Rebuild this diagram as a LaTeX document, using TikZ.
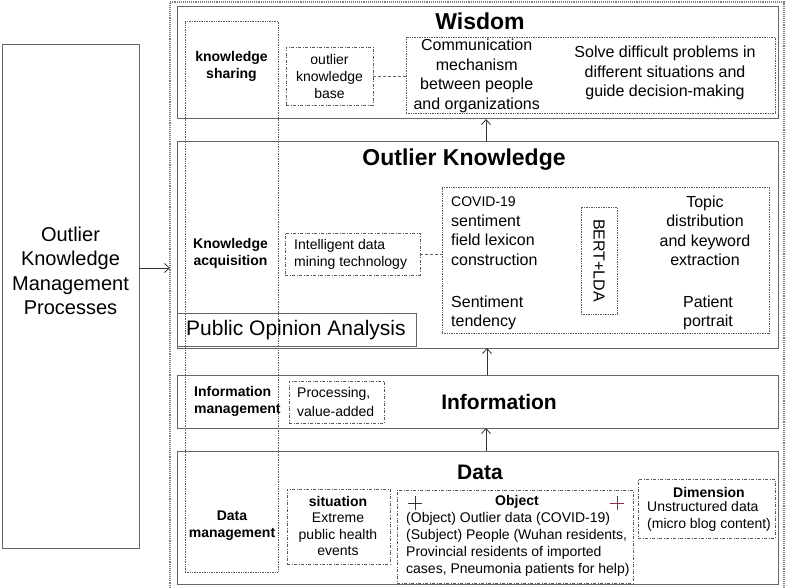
\documentclass[tikz,border=0pt]{standalone}
\usepackage{fontspec}
\setmainfont{Liberation Sans}
\usetikzlibrary{arrows.meta}
\definecolor{pluscol}{RGB}{150,40,90}
\newcommand{\fsz}[2]{\fontsize{#1}{#2}\selectfont}
\newcommand{\bx}[6]{\node[#2, minimum width={#5-#3}, minimum height={#6-#4}] (#1) at ({(#3+#5)/2},{(#4+#6)/2}) {};}
\begin{document}
\begin{tikzpicture}[x=1pt,y=-1pt,
 solidbox/.style={draw=black!60, line width=1pt, inner sep=0pt, outer sep=0pt},
 dotbox/.style={draw=black!65, line width=0.7pt, densely dotted, inner sep=0pt, outer sep=0pt},
 ddbox/.style={draw=black!65, line width=0.7pt, dash pattern=on 3pt off 1.5pt on 1pt off 1.5pt, inner sep=0pt, outer sep=0pt},
 frm/.style={draw=black!50, line width=1.1pt, densely dotted, inner sep=0pt, outer sep=0pt},
 txt/.style={inner sep=0pt, font=\fsz{16}{19.5}},
 small/.style={inner sep=0pt, font=\fsz{14}{17}},
 bsmall/.style={inner sep=0pt, font=\fsz{14}{17}\bfseries},
 ttl/.style={inner sep=0pt, font=\fsz{23}{26}\bfseries},
 arr/.style={draw=black!80, line width=0.8pt, -{Straight Barb[length=5pt,width=9pt]}},
 link/.style={draw=black!60, line width=0.7pt, dash pattern=on 3pt off 2pt},
 plusmark/.style={line width=0.8pt}
]
\useasboundingbox (0,0) rectangle (790,588);

% left process box
\bx{lbox}{solidbox}{2}{45}{139}{548}
\node[inner sep=0pt, font=\fsz{20}{24.5}, align=center] (lboxtext) at (70.5,271) {Outlier\\Knowledge\\Management\\Processes};

% outer dotted frame
\bx{frame}{frm}{170}{2}{784}{596}
\draw[arr] (lbox.east |- 0,268) -- (frame.west |- 0,268);

% tall dotted management column
\bx{mcol}{dotbox}{185}{21}{278}{572}

% ===== Wisdom =====
\bx{wis}{solidbox}{177}{7}{778}{119}
\node[ttl] (wisT) at (480,21) {Wisdom};
\node[bsmall, align=center] (ksh) at (231.5,66.5) {knowledge\\sharing};
\bx{obase}{ddbox}{286}{47}{373}{105}
\node[small, align=center] (obaseT) at (obase) {outlier\\knowledge\\base};
\bx{comm}{dotbox}{406}{37}{775}{113}
\node[txt, align=center] (commT) at (476.7,76) {Communication\\mechanism\\between people\\and organizations};
\node[txt, align=center] (solveT) at (665,73) {Solve difficult problems in\\different situations and\\guide decision-making};
\draw[link] (obase.east) -- (comm.west |- obase.east);

% ===== Outlier Knowledge =====
\bx{ok}{solidbox}{177}{142}{778}{348}
\node[ttl] (okT) at (464,160) {Outlier Knowledge};
\node[bsmall, align=center] (kacq) at (230.5,253.5) {Knowledge\\acquisition};
\bx{intel}{ddbox}{285}{233}{420}{275}
\node[small, align=left, anchor=west] (intelT) at (294,254) {Intelligent data\\mining technology};
\bx{big}{dotbox}{442}{187}{769}{333}
\draw[link] (intel.east) -- (intel.east -| big.west);
\node[txt, align=left, anchor=west] (covid) at (451,231) {{\fsz{14}{19.5}COVID-19}\\sentiment\\field lexicon\\construction};
\node[txt, align=left, anchor=west] (senti) at (451,313) {Sentiment\\tendency};
\node[draw=black!65, line width=0.7pt, densely dotted, inner sep=0pt, rotate=-90, minimum width=107, minimum height=36, font=\fsz{16}{19.5}] (bert) at (599,260.5) {BERT+LDA};
\node[txt, align=center] (topic) at (705,231) {Topic\\distribution\\and keyword\\extraction};
\node[txt, align=center] (patient) at (708,313) {Patient\\portrait};
\bx{poa}{solidbox}{177}{313}{416}{346}
\node[inner sep=0pt, font=\fsz{21}{24}, anchor=west] (poaT) at (186,330) {Public Opinion Analysis};

% ===== Information =====
\bx{info}{solidbox}{177}{375}{778}{428}
\node[inner sep=0pt, font=\fsz{21}{24}\bfseries] (infoT) at (499,402) {Information};
\node[bsmall, align=left, anchor=west] (imgmt) at (194,401.5) {Information\\management};
\bx{proc}{ddbox}{289}{381}{384}{423}
\node[inner sep=0pt, font=\fsz{14}{19}, align=left, anchor=west] (procT) at (297,401.5) {Processing,\\value-added};

% ===== Data =====
\bx{data}{solidbox}{177}{451}{778}{584}
\node[inner sep=0pt, font=\fsz{21}{24}\bfseries] (dataT) at (480,472) {Data};
\node[bsmall, align=center] (dmgmt) at (232,526) {Data\\management};
\bx{sit}{ddbox}{287}{489}{390}{564}
\node[inner sep=0pt, font=\fsz{14}{16.5}, align=center] (sitT) at (338,526) {\textbf{situation}\\Extreme\\public health\\events};
\bx{obj}{ddbox}{397}{490}{633}{583}
\node[bsmall] (objT) at (517,502) {Object};
\node[small, align=left, anchor=west] (objL) at (406,544.5) {(Object) Outlier data (COVID-19)\\(Subject) People (Wuhan residents,\\Provincial residents of imported\\cases, Pneumonia patients for help)};
\draw[plusmark, black!80] (408,503) -- (422,503) (415,496) -- (415,510);
\draw[plusmark, pluscol] (610,503) -- (624,503) (617,496) -- (617,510);
\bx{dim}{ddbox}{638}{479}{775}{538}
\node[bsmall] (dimT) at (709,492) {Dimension};
\node[small, align=left, anchor=west] (dimL) at (647,516.5) {Unstructured data\\(micro blog content)};

% ===== layer arrows =====
\draw[arr] (ok.north -| 486,0) -- (wis.south -| 486,0);
\draw[arr] (info.north -| 487,0) -- (ok.south -| 487,0);
\draw[arr] (data.north -| 486,0) -- (info.south -| 486,0);
\end{tikzpicture}
\end{document}
